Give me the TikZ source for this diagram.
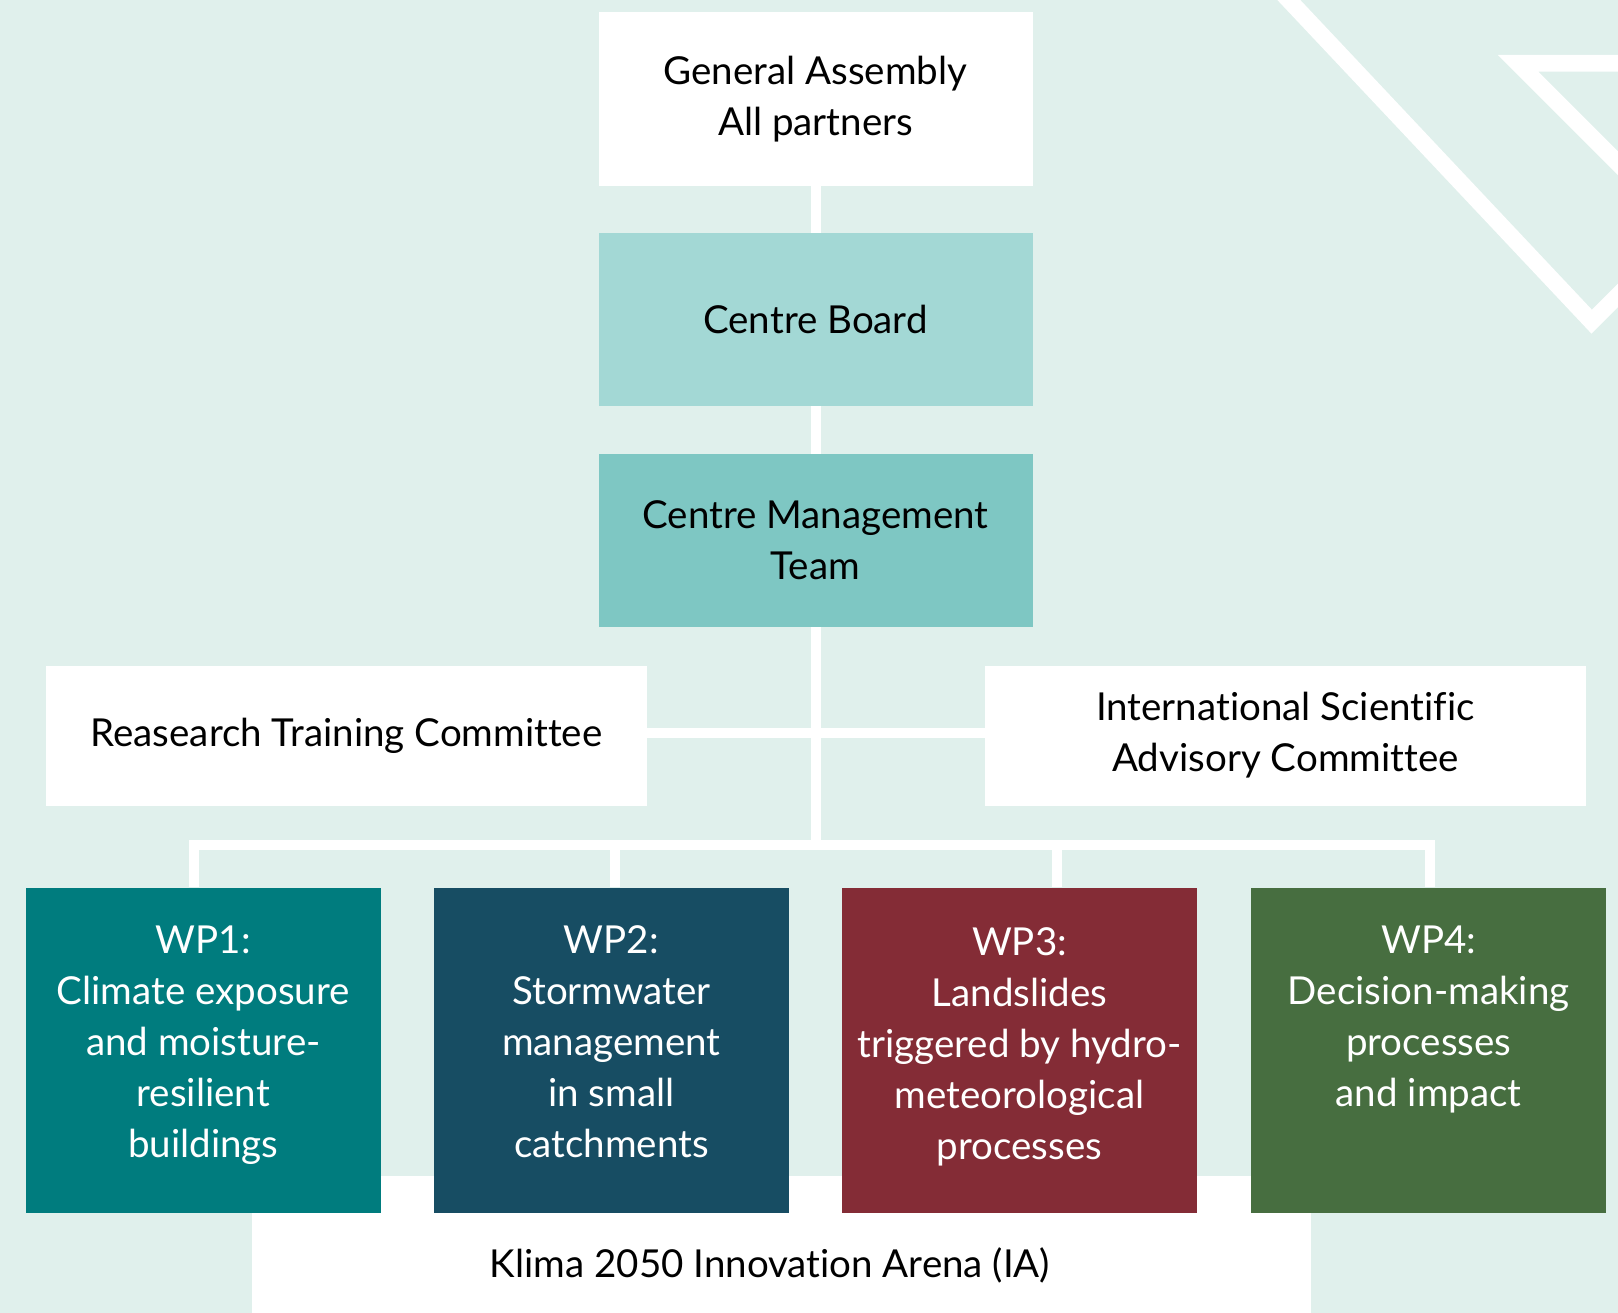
\documentclass[tikz,border=0pt]{standalone}
\usepackage{fontspec}
\setmainfont{Lato}[Ligatures={NoCommon,NoRare}]
\usetikzlibrary{backgrounds}
\definecolor{bgmint}{HTML}{E0F0EC}
\definecolor{boardteal}{HTML}{A3D8D5}
\definecolor{mgmtteal}{HTML}{7EC7C3}
\definecolor{wpteal}{HTML}{007C7E}
\definecolor{wpnavy}{HTML}{174D63}
\definecolor{wpwine}{HTML}{842C36}
\definecolor{wpgreen}{HTML}{476E40}
\newcommand\orgfont{\fontsize{38.5}{51}\selectfont}
\tikzset{
  orgbox/.style={rectangle, inner sep=0pt, align=center, font=\orgfont, text=black},
  topbox/.style={orgbox, minimum width=434pt, minimum height=173.4pt},
  sidebox/.style={orgbox, fill=white, minimum width=601.5pt, minimum height=140pt},
  wpbox/.style={rectangle, inner sep=0pt, minimum width=355pt, minimum height=325pt},
  wptext/.style={inner sep=0pt, align=center, font=\orgfont, text=white, anchor=north},
  link/.style={draw=white, line width=10pt, line join=miter},
  deco/.style={draw=white, line width=16.7pt, line join=miter}
}
\begin{document}
\begin{tikzpicture}[x=1pt,y=-1pt]
  \useasboundingbox (0,0) rectangle (1618,1313);

  % governance boxes
  \node[topbox, fill=white] (ga) at (815.5,99) {General Assembly\\All partners};
  \node[topbox, fill=boardteal] (cb) at (815.5,319.8) {Centre Board};
  \node[topbox, fill=mgmtteal] (cmt) at (815.5,540.7) {Centre Management\\Team};
  \node[sidebox] (rtc) at (346.5,735.5) {Reasearch Training Committee};
  \node[sidebox] (isac) at (1285.5,735.5) {International Scientific\\Advisory Committee};

  % work packages
  \node[wpbox, fill=wpteal] (wp1) at (203.3,1050) {};
  \node[wpbox, fill=wpnavy] (wp2) at (611.4,1050) {};
  \node[wpbox, fill=wpwine] (wp3) at (1019.5,1050) {};
  \node[wpbox, fill=wpgreen] (wp4) at (1428.7,1050) {};

  \node[wptext] (wp1t) at ([yshift=-38.5pt]wp1.north) {WP1:\\Climate exposure\\and moisture-\\resilient\\buildings};
  \node[wptext] (wp2t) at ([yshift=-38.5pt]wp2.north) {WP2:\\Stormwater\\management\\in small\\catchments};
  \node[wptext] (wp3t) at ([yshift=-40.5pt]wp3.north) {WP3:\\Landslides\\triggered by hydro-\\meteorological\\processes};
  \node[wptext] (wp4t) at ([yshift=-38.5pt]wp4.north) {WP4:\\Decision-making\\processes\\and impact};

  % branch points of the work package bus
  \coordinate (b1) at ([shift={(-9.3pt,42.5pt)}]wp1.north);
  \coordinate (b2) at ([shift={(3.6pt,42.5pt)}]wp2.north);
  \coordinate (b3) at ([shift={(37.5pt,42.5pt)}]wp3.north);
  \coordinate (b4) at ([shift={(1.3pt,42.5pt)}]wp4.north);

  \begin{scope}[on background layer]
    \fill[bgmint] (0,0) rectangle (1618,1313);
    % logo strokes in the upper right corner and the arena band
    \begin{scope}
      \clip (0,0) rectangle (1618,1313);
      \draw[deco] (1270,-20) -- (1591.7,321.7) -- (1700,213.4);
      \draw[deco] (1750,63.3) -- (1518,63.3) -- (1818,363.3);
      \fill[white] (251.8,1176) rectangle (1310.5,1330);
    \end{scope}
    % connectors
    \draw[link] ([xshift=0.5pt]ga.south) -- ([xshift=0.5pt]ga.south |- b1);
    \draw[link] ([yshift=2.5pt]rtc.east) -- ([yshift=2.5pt]isac.west);
    \draw[link] (b1 |- wp1.north) -- (b1) -- (b4) -- (b4 |- wp4.north);
    \draw[link] (b2) -- (b2 |- wp2.north);
    \draw[link] (b3) -- (b3 |- wp3.north);
  \end{scope}

  \node[inner sep=0pt, font=\orgfont] (ia) at (770,1265) {Klima 2050 Innovation Arena (IA)};
\end{tikzpicture}
\end{document}
